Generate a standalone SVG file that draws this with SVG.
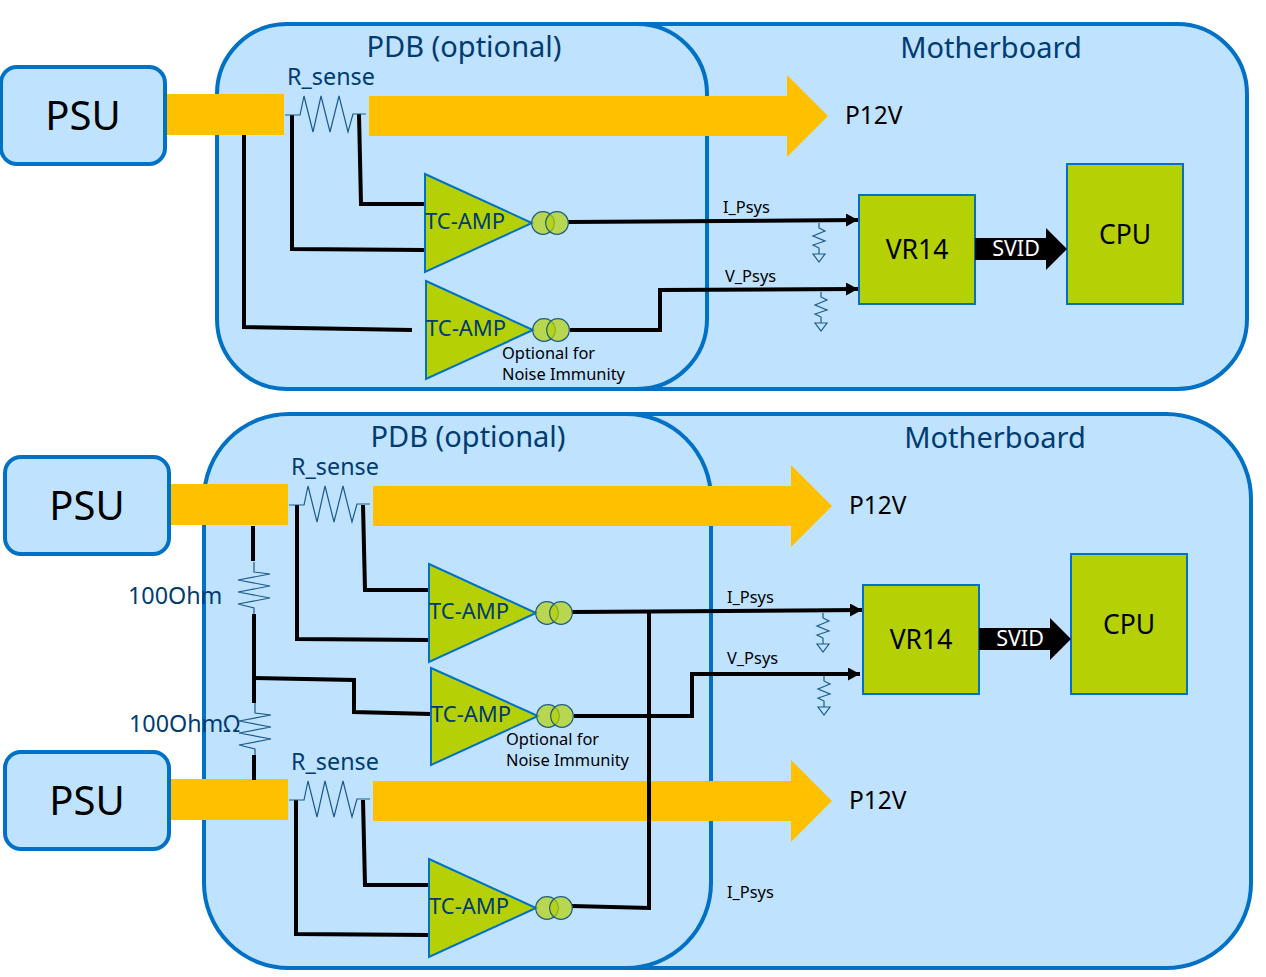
<svg xmlns="http://www.w3.org/2000/svg" width="1266" height="977" viewBox="0 0 1266 977">
<style>
text{font-family:"Noto Sans","Open Sans","DejaVu Sans",sans-serif;}
.board{fill:#bfe2ff;stroke:#0071c5;stroke-width:4;}
.psu{fill:#bfe2ff;stroke:#0071c5;stroke-width:4;}
.chip{fill:#b5d106;stroke:#0071c5;stroke-width:2;}
.amp{fill:#b5d106;stroke:#0071c5;stroke-width:2;}
.ring{fill:#b5d106;fill-opacity:.7;stroke:#1f5c82;stroke-width:1.2;}
.bar{fill:#ffc000;}
.w{fill:none;stroke:#000;stroke-width:4;}
.res{fill:none;stroke:#1d5a8a;stroke-width:1.2;}
.blue{fill:#003c71;}
.blk{fill:#000;}
.title{font-size:29px;}
.psut{font-size:40px;}
.chipt{font-size:26.500px;}
.amt{font-size:22px;}
.rs{font-size:23.300px;}
.p12{font-size:24.500px;}
.sv{font-size:21.500px;}
.sm{font-size:16.400px;}
</style>
<defs>
<marker id="ah" markerUnits="userSpaceOnUse" markerWidth="13" markerHeight="14" refX="12" refY="6.500" orient="auto"><path d="M0 0L12 6.500L0 13z" fill="#000"/></marker>
<g id="rsense"><path class="res" d="M0 0H15L19-19L28 17L36-19L45 17L54-19L63 17L68-1H81"/></g>
<g id="rv"><path class="res" d="M0 0V10L16 12L-16 18L16 24L-16 30L16 36L-16 42L0 46V52"/></g>
<g id="rload"><path class="res" d="M0 0V5L6 8L-6 13L6 18L-6 22L0 25V31M-6 31H6L0 39z"/></g>
</defs>

<g id="mb-top"><rect class="board" x="540" y="24" width="707" height="365" rx="70"/><text class="blue title" x="991" y="58" text-anchor="middle">Motherboard</text></g>
<g id="pdb-top"><rect class="board" x="217" y="24" width="490" height="365" rx="70"/><text class="blue title" x="464" y="57" text-anchor="middle">PDB (optional)</text></g>
<g id="mb-bot"><rect class="board" x="520" y="414" width="731" height="554" rx="85"/><text class="blue title" x="995" y="448" text-anchor="middle">Motherboard</text></g>
<g id="pdb-bot"><rect class="board" x="204" y="414" width="507" height="554" rx="85"/><text class="blue title" x="468" y="447" text-anchor="middle">PDB (optional)</text></g>

<g id="bar1"><rect class="bar" x="167" y="94" width="117" height="41"/><path class="bar" d="M369 96H787V75L828 116L787 157V136H369z"/></g>
<g id="bar2"><rect class="bar" x="171" y="484" width="117" height="41"/><path class="bar" d="M373 486H791V465L832 506L791 547V526H373z"/></g>
<g id="bar3"><rect class="bar" x="171" y="779" width="117" height="41"/><path class="bar" d="M373 781H791V760L832 801L791 842V821H373z"/></g>

<g id="connectors">
<path class="w" d="M244 135V327L412 330"/>
<path class="w" d="M292 115V249L425 250"/>
<path class="w" d="M359 114L361 204H425"/>
<path class="w" marker-end="url(#ah)" d="M568 222L858 220"/>
<path class="w" marker-end="url(#ah)" d="M570 330H660V290L858 289"/>
<path class="w" d="M253 526V561M254 614V703M254 755V780"/>
<path class="w" d="M254 678L354 680V712L431 714"/>
<path class="w" d="M297 505V639L429 640"/>
<path class="w" d="M363 505L365 590H429"/>
<path class="w" marker-end="url(#ah)" d="M572 612L862 610"/>
<path class="w" marker-end="url(#ah)" d="M574 716H692V674L860 674"/>
<path class="w" d="M296 800V934L429 935"/>
<path class="w" d="M363 800L365 885H429"/>
<path class="w" d="M572 906L649 908V612"/>
</g>

<g id="rs1"><use href="#rsense" x="285" y="115"/></g>
<g id="rs2"><use href="#rsense" x="289" y="505"/></g>
<g id="rs3"><use href="#rsense" x="289" y="800"/></g>
<g id="r100a"><use href="#rv" x="254" y="562"/></g>
<g id="r100b"><use href="#rv" x="255" y="703"/></g>
<g id="rl1"><use href="#rload" x="819" y="223"/></g>
<g id="rl2"><use href="#rload" x="821" y="292"/></g>
<g id="rl3"><use href="#rload" x="823" y="613"/></g>
<g id="rl4"><use href="#rload" x="824" y="676"/></g>

<g id="psu1"><rect class="psu" x="1" y="67" width="164" height="97" rx="16"/><text class="blk psut" x="83" y="130" text-anchor="middle">PSU</text></g>
<g id="psu2"><rect class="psu" x="5" y="457" width="164" height="97" rx="16"/><text class="blk psut" x="87" y="520" text-anchor="middle">PSU</text></g>
<g id="psu3"><rect class="psu" x="5" y="752" width="164" height="97" rx="16"/><text class="blk psut" x="87" y="815" text-anchor="middle">PSU</text></g>

<g id="amp1"><path class="amp" d="M425 174L532 223L425 272z"/><circle class="ring" cx="543" cy="223" r="11.300"/><circle class="ring" cx="557" cy="223" r="11.300"/><text class="blue amt" x="425" y="229">TC-AMP</text></g>
<g id="amp2"><path class="amp" d="M426 281L533 330L426 379z"/><circle class="ring" cx="544" cy="330" r="11.300"/><circle class="ring" cx="558" cy="330" r="11.300"/><text class="blue amt" x="426" y="336">TC-AMP</text></g>
<g id="amp3"><path class="amp" d="M429 564L536 613L429 662z"/><circle class="ring" cx="547" cy="613" r="11.300"/><circle class="ring" cx="561" cy="613" r="11.300"/><text class="blue amt" x="429" y="619">TC-AMP</text></g>
<g id="amp4"><path class="amp" d="M431 668L538 716L431 765z"/><circle class="ring" cx="548" cy="716" r="11.300"/><circle class="ring" cx="562" cy="716" r="11.300"/><text class="blue amt" x="431" y="722">TC-AMP</text></g>
<g id="amp5"><path class="amp" d="M429 859L536 908L429 957z"/><circle class="ring" cx="547" cy="908" r="11.300"/><circle class="ring" cx="561" cy="908" r="11.300"/><text class="blue amt" x="429" y="914">TC-AMP</text></g>

<g id="vr1"><rect class="chip" x="859" y="195" width="116" height="109"/><text class="blk chipt" x="917" y="259" text-anchor="middle">VR14</text></g>
<g id="cpu1"><rect class="chip" x="1067" y="164" width="116" height="140"/><text class="blk chipt" x="1125" y="244" text-anchor="middle">CPU</text></g>
<g id="vr2"><rect class="chip" x="863" y="585" width="116" height="109"/><text class="blk chipt" x="921" y="649" text-anchor="middle">VR14</text></g>
<g id="cpu2"><rect class="chip" x="1071" y="554" width="116" height="140"/><text class="blk chipt" x="1129" y="634" text-anchor="middle">CPU</text></g>

<g id="svid1"><path class="blk" d="M975 238H1046V228L1067 249L1046 270V260H975z"/><text x="1016" y="256" text-anchor="middle" class="sv" fill="#fff">SVID</text></g>
<g id="svid2"><path class="blk" d="M979 628H1050V618L1071 639L1050 660V650H979z"/><text x="1020" y="646" text-anchor="middle" class="sv" fill="#fff">SVID</text></g>

<g id="labels">
<text class="blue rs" x="287" y="85">R_sense</text>
<text class="blue rs" x="291" y="475">R_sense</text>
<text class="blue rs" x="291" y="770">R_sense</text>
<text class="blk p12" x="845" y="124">P12V</text>
<text class="blk p12" x="849" y="514">P12V</text>
<text class="blk p12" x="849" y="809">P12V</text>
<text class="blk sm" x="723" y="213">I_Psys</text>
<text class="blk sm" x="725" y="282">V_Psys</text>
<text class="blk sm" x="727" y="603">I_Psys</text>
<text class="blk sm" x="727" y="664">V_Psys</text>
<text class="blk sm" x="727" y="898">I_Psys</text>
<text class="blk sm" x="502" y="359">Optional for</text>
<text class="blk sm" x="502" y="380">Noise Immunity</text>
<text class="blk sm" x="506" y="745">Optional for</text>
<text class="blk sm" x="506" y="766">Noise Immunity</text>
<text class="blue rs" x="128" y="604">100Ohm</text>
<text class="blue rs" x="129" y="732">100OhmΩ</text>
</g>
</svg>
